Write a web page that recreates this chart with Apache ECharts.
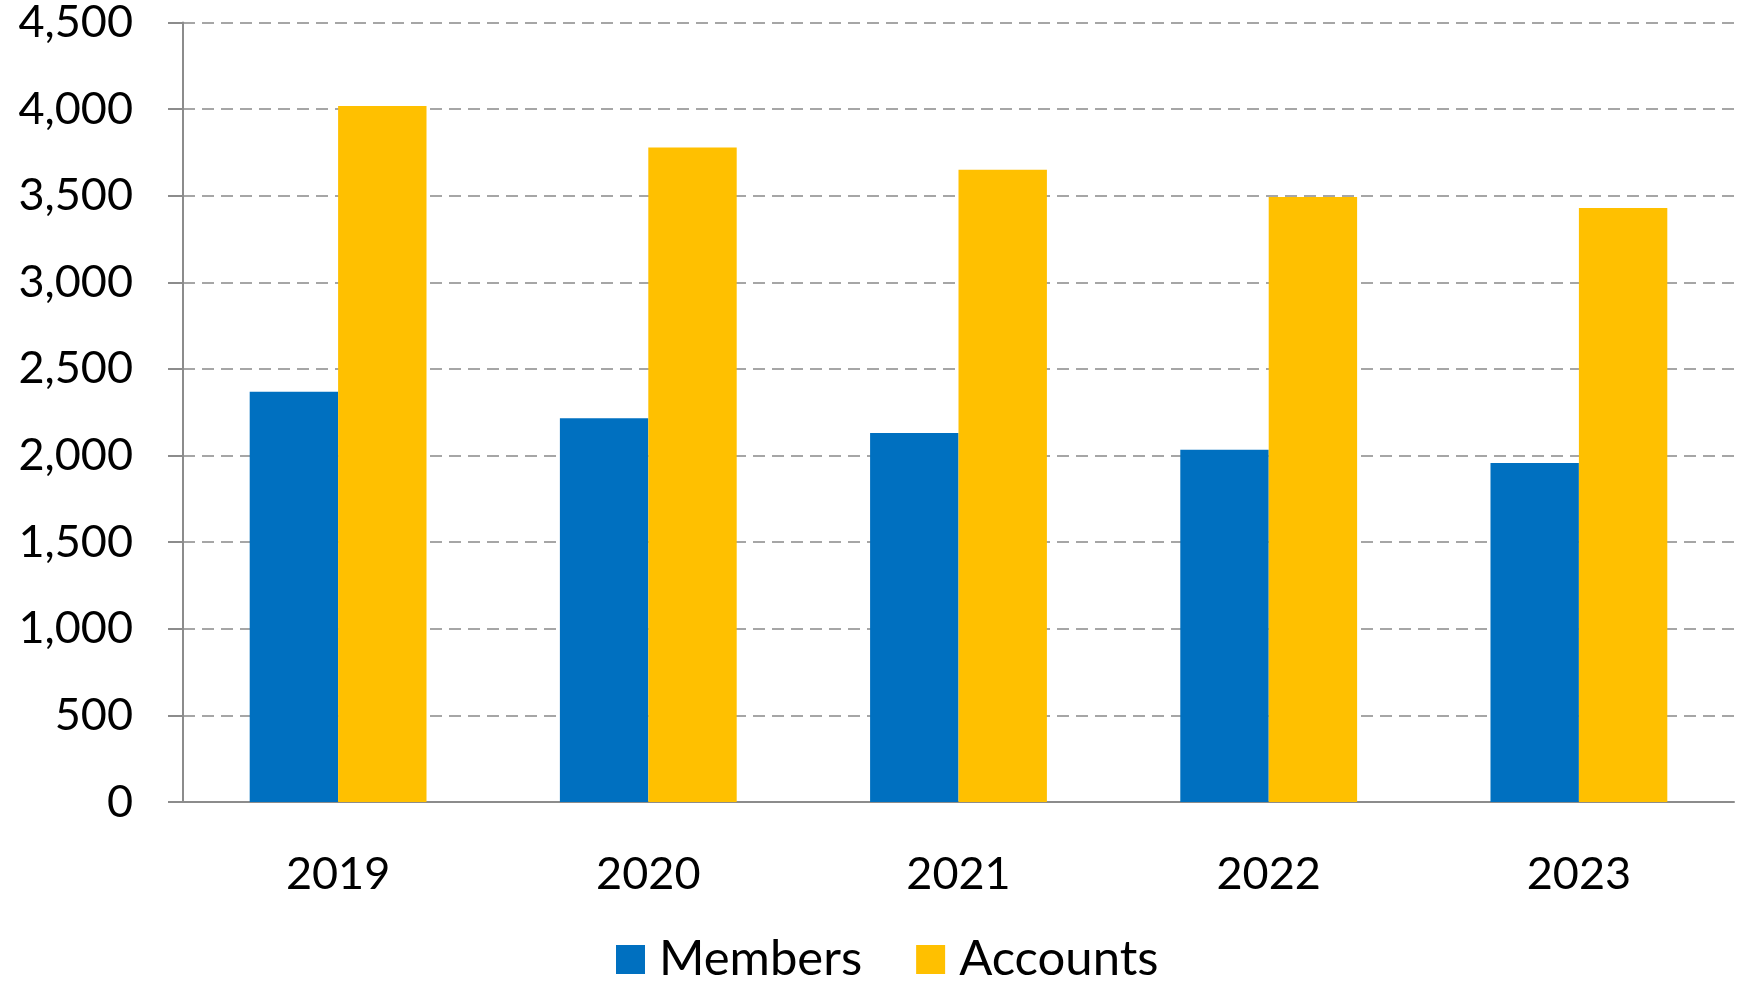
<!DOCTYPE html>
<html>
<head>
<meta charset="utf-8">
<script src="https://cdn.jsdelivr.net/npm/echarts@6/dist/echarts.min.js"></script>
<style>
  html, body { margin: 0; padding: 0; background: #fff; }
  #chart { width: 1741px; height: 982px; }
</style>
</head>
<body>
<div id="chart"></div>
<script>
const years = ['2019', '2020', '2021', '2022', '2023'];
const members = [2368, 2216, 2130, 2034, 1957];
const accounts = [4018, 3779, 3650, 3492, 3429];
const yTicks = [0, 500, 1000, 1500, 2000, 2500, 3000, 3500, 4000, 4500];

const font = 'Lato, "Open Sans", sans-serif';
const chart = echarts.init(document.getElementById('chart'));
chart.setOption({
  backgroundColor: '#fff',
  animation: false,
  grid: { left: 183, right: 7, top: 20, bottom: 180, containLabel: false },
  legend: {
    data: ['Members', 'Accounts'],
    top: 935, left: 616, padding: 0,
    icon: 'rect', itemWidth: 29, itemHeight: 29, itemGap: 54,
    textStyle: { fontFamily: font, fontSize: 49, color: '#000', padding: [0, 0, 0, 9] }
  },
  xAxis: {
    type: 'category', data: years,
    axisLine: { lineStyle: { color: '#8c8c8c', width: 2 } },
    axisTick: { length: 16, lineStyle: { color: '#8c8c8c', width: 2 } },
    axisLabel: { fontFamily: font, fontSize: 45, color: '#000', margin: 50 }
  },
  yAxis: {
    type: 'value', min: yTicks[0], max: yTicks[yTicks.length - 1], interval: 500,
    axisLine: { show: true, lineStyle: { color: '#8c8c8c', width: 2 } },
    axisTick: { show: true, length: 15, lineStyle: { color: '#8c8c8c', width: 2 } },
    axisLabel: {
      fontFamily: font, fontSize: 45, color: '#000', margin: 50,
      formatter: v => v.toLocaleString('en-US')
    },
    splitLine: { lineStyle: { color: '#a6a6a6', width: 2, type: [12, 7] } }
  },
  series: [
    { name: 'Members', type: 'bar', data: members, barGap: 0, barCategoryGap: '43%',
      itemStyle: { color: '#0070C0' } },
    { name: 'Accounts', type: 'bar', data: accounts, barGap: 0, barCategoryGap: '43%',
      itemStyle: { color: '#FFC000' } }
  ]
});
</script>
</body>
</html>
